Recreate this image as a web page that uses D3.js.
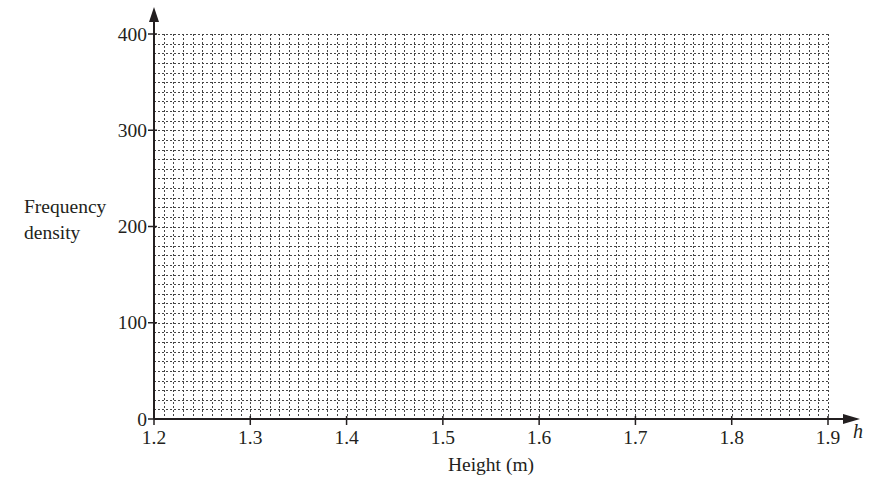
<!DOCTYPE html>
<html lang="en">

<head>
    <meta charset="UTF-8">
    <title>Frequency density grid</title>
    <script src="https://d3js.org/d3.v7.min.js"></script>
    <style>
        body { margin: 0; background: #fff; }
        text { font-family: "Liberation Serif", "Times New Roman", serif; fill: #231f20; }
    </style>
</head>

<body>
    <div id="chart"></div>
    <script>
        // axis values
        const xTicks = [1.2, 1.3, 1.4, 1.5, 1.6, 1.7, 1.8, 1.9];
        const yTicks = [0, 100, 200, 300, 400];
        const xMinorStep = 0.01;
        const yMinorStep = 10;
        const yLabel = ["Frequency", "density"];
        const xLabel = "Height (m)";
        const xVar = "h";

        const width = 881, height = 477;
        const plotLeft = 154, plotRight = 828, plotTop = 34, plotBottom = 419;
        const fontSize = 19.5;

        const x = d3.scaleLinear().domain([1.2, 1.9]).range([plotLeft, plotRight]);
        const y = d3.scaleLinear().domain([0, 400]).range([plotBottom, plotTop]);

        const svg = d3.select("#chart").append("svg")
            .attr("width", width)
            .attr("height", height);

        // minor grid (dotted)
        const xMinor = d3.range(0, 71).map(i => 1.2 + i * xMinorStep);
        const yMinor = d3.range(0, 41).map(i => i * yMinorStep);

        const grid = svg.append("g").attr("class", "grid");
        grid.selectAll("line.v")
            .data(xMinor)
            .enter().append("line")
            .attr("class", "v")
            .attr("x1", d => Math.round(x(d)) + 0.5)
            .attr("x2", d => Math.round(x(d)) + 0.5)
            .attr("y1", plotTop)
            .attr("y2", plotBottom)
            .attr("stroke", "#444")
            .attr("stroke-width", 1)
            .attr("stroke-dasharray", "2,2");
        grid.selectAll("line.h")
            .data(yMinor)
            .enter().append("line")
            .attr("class", "h")
            .attr("y1", d => Math.round(y(d)) + 0.5)
            .attr("y2", d => Math.round(y(d)) + 0.5)
            .attr("x1", plotLeft)
            .attr("x2", plotRight)
            .attr("stroke", "#444")
            .attr("stroke-width", 1)
            .attr("stroke-dasharray", "2,2");

        // axes
        const axisColor = "#231f20";
        svg.append("line")
            .attr("x1", plotLeft).attr("x2", 848)
            .attr("y1", plotBottom).attr("y2", plotBottom)
            .attr("stroke", axisColor).attr("stroke-width", 2);
        svg.append("line")
            .attr("x1", plotLeft).attr("x2", plotLeft)
            .attr("y1", plotBottom).attr("y2", 18)
            .attr("stroke", axisColor).attr("stroke-width", 2);

        // arrow heads
        svg.append("path")
            .attr("d", `M${plotLeft},7 L${plotLeft - 5},22 L${plotLeft + 5},22 Z`)
            .attr("fill", axisColor);
        svg.append("path")
            .attr("d", `M860,${plotBottom} L843,${plotBottom - 5} L843,${plotBottom + 5} Z`)
            .attr("fill", axisColor);

        // y ticks and labels
        const yt = svg.append("g");
        yt.selectAll("line")
            .data(yTicks)
            .enter().append("line")
            .attr("x1", plotLeft - 6).attr("x2", plotLeft + 3)
            .attr("y1", d => y(d)).attr("y2", d => y(d))
            .attr("stroke", axisColor).attr("stroke-width", 1.5);
        yt.selectAll("text")
            .data(yTicks)
            .enter().append("text")
            .attr("x", plotLeft - 7)
            .attr("y", d => y(d) + 6.5)
            .attr("text-anchor", "end")
            .attr("font-size", fontSize)
            .text(d => d);

        // x ticks and labels
        const xt = svg.append("g");
        xt.selectAll("line")
            .data(xTicks)
            .enter().append("line")
            .attr("x1", d => x(d)).attr("x2", d => x(d))
            .attr("y1", plotBottom - 3).attr("y2", plotBottom + 6)
            .attr("stroke", axisColor).attr("stroke-width", 1.5);
        xt.selectAll("text")
            .data(xTicks)
            .enter().append("text")
            .attr("x", d => x(d))
            .attr("y", 444)
            .attr("text-anchor", "middle")
            .attr("font-size", fontSize)
            .text(d => d.toFixed(1));

        // axis titles
        svg.append("text")
            .attr("x", 24).attr("y", 213)
            .attr("font-size", fontSize)
            .selectAll("tspan")
            .data(yLabel)
            .enter().append("tspan")
            .attr("x", 24)
            .attr("dy", (d, i) => i === 0 ? 0 : 26)
            .text(d => d);

        svg.append("text")
            .attr("x", 491).attr("y", 471)
            .attr("text-anchor", "middle")
            .attr("font-size", fontSize)
            .text(xLabel);

        svg.append("text")
            .attr("x", 853).attr("y", 438)
            .attr("font-size", 20)
            .attr("font-style", "italic")
            .text(xVar);
    </script>
</body>

</html>
